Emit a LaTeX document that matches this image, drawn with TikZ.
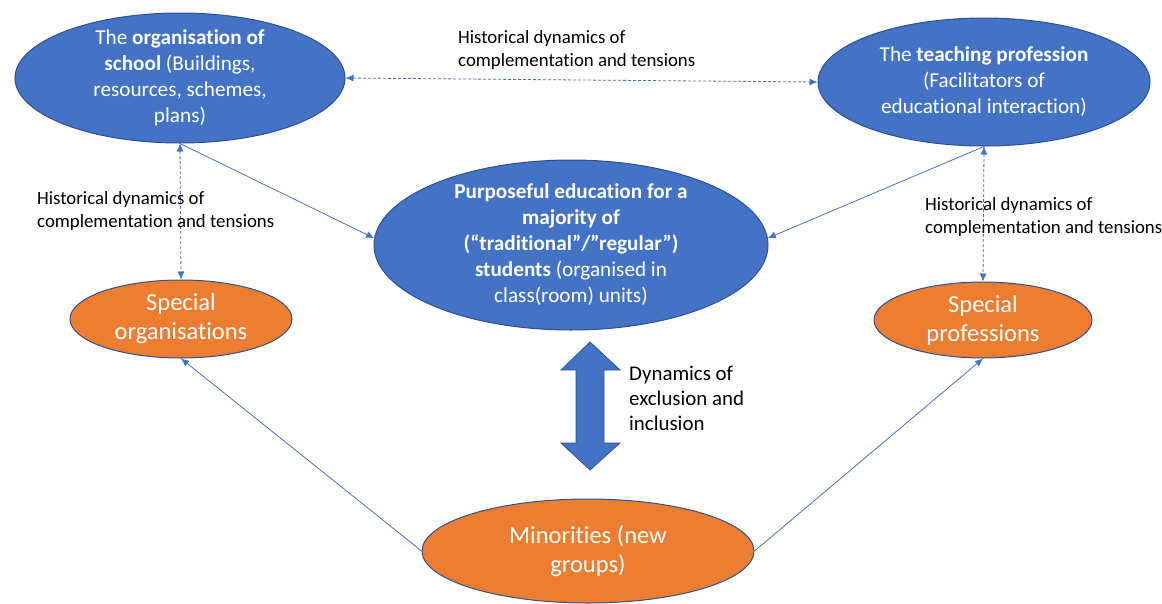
\documentclass[tikz,border=0pt]{standalone}
\usepackage{fontspec}
\setmainfont{Carlito}[Ligatures=CommonOff]
\usepackage{tikz}
\usetikzlibrary{shapes.geometric}
\usetikzlibrary{arrows.meta}
\definecolor{accblue}{HTML}{4472C4}
\definecolor{accorange}{HTML}{ED7D31}
\definecolor{rimblue}{HTML}{2F528F}

\begin{document}
\begin{tikzpicture}[x=1pt,y=-1pt,
  blueell/.style={ellipse, fill=accblue, draw=rimblue, line width=1pt, inner sep=0pt},
  orangeell/.style={ellipse, fill=accorange, draw=rimblue, line width=1pt, inner sep=0pt},
  intext/.style={text=white, align=center, font=\fontsize{21.2}{26}\selectfont},
  bigtext/.style={text=white, align=center, font=\fontsize{24.5}{29}\selectfont},
  histtext/.style={align=left, anchor=north west, inner sep=0pt, font=\fontsize{18.8}{23}\selectfont},
  link/.style={draw=accblue, line width=0.8pt, -{Latex[length=8pt,width=7pt]}},
  duallink/.style={draw=accblue, line width=0.8pt, dash pattern=on 3pt off 2pt, {Latex[length=8pt,width=7pt]}-{Latex[length=8pt,width=7pt]}}]

\useasboundingbox (0,0) rectangle (1162,603);

% the blue ellipses
\node[blueell, minimum width=330, minimum height=130] (org) at (180,78) {};
\node[intext] at (org) {The \textbf{organisation of}\\\textbf{school} (Buildings,\\resources, schemes,\\plans)};

\node[blueell, minimum width=332, minimum height=128] (prof) at (984,82) {};
\node[intext] at (prof) {The \textbf{teaching profession}\\(Facilitators of\\educational interaction)};

\node[blueell, minimum width=394, minimum height=170] (edu) at (571,245) {};
\node[intext] at (edu) {\textbf{Purposeful education for a}\\\textbf{majority of}\\\textbf{(“traditional”/”regular”)}\\\textbf{students} (organised in\\class(room) units)};

% the orange ones
\node[orangeell, minimum width=222, minimum height=78] (sorg) at (181,319) {};
\node[bigtext] at (sorg) {Special\\organisations};

\node[orangeell, minimum width=218, minimum height=76] (sprof) at (983,320) {};
\node[bigtext] at (sprof) {Special\\professions};

\node[orangeell, minimum width=332, minimum height=104] (mino) at (588,551) {};
\node[bigtext] at (mino) {Minorities (new\\groups)};

% connectors
\draw[duallink] (org.east) -- (prof.west);
\draw[duallink] (org.south) -- (sorg.north);
\draw[duallink] (prof.south) -- (sprof.north);
\draw[link] (org.south) -- (edu.178);
\draw[link] (prof.south) -- (edu.2);
\draw[link] (mino.west) -- (sorg.south);
\draw[link] (mino.east) -- (sprof.south);

% labels
\node[histtext] (histtop) at (458,30) {Historical dynamics of\\complementation and tensions};
\node[histtext] (histleft) at (37,191) {Historical dynamics of\\complementation and tensions};
\node[histtext] (histright) at (925,197) {Historical dynamics of\\complementation and tensions};

% big double arrow
\filldraw[fill=accblue, draw=rimblue, line width=0.8pt]
  (590,342) -- (620,370) -- (604,370) -- (604,443) -- (620,443) -- (590,470)
  -- (561,443) -- (576,443) -- (576,370) -- (561,370) -- cycle;
\node[align=left, anchor=north west, inner sep=0pt, font=\fontsize{20.9}{25}\selectfont] (dyn) at (629,366) {Dynamics of\\exclusion and\\inclusion};

\end{tikzpicture}
\end{document}
